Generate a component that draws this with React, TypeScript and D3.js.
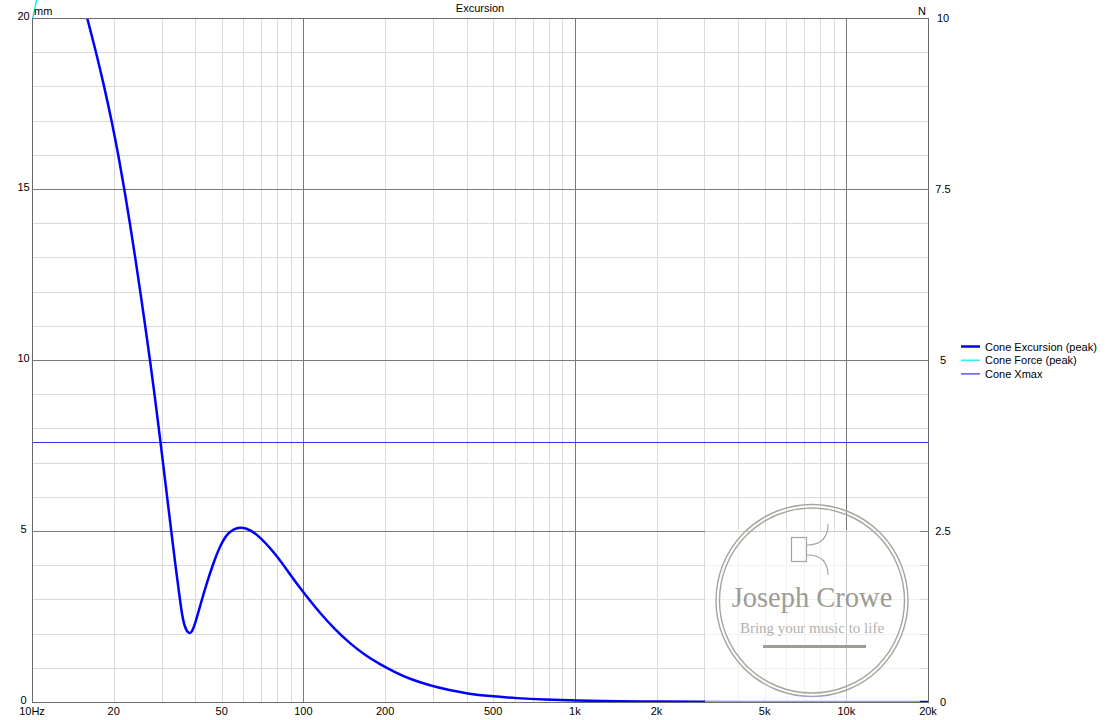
import React, { useEffect } from "react";
import * as d3 from "d3";

// ---- Data ----
const excursionFreq = [10, 12, 14, 15.99, 17.22, 18.45, 19.64, 20.8, 21.88, 22.95, 24.0, 25.06, 26.12, 27.21, 28.27, 29.32, 30.38, 31.46, 32.58, 33.75, 35.07, 35.7, 36.31, 36.93, 37.56, 38.2, 38.86, 39.53, 40.55, 42.2, 44.14, 46.55, 48.45, 50.68, 52.74, 55.5, 58.4, 61.44, 66.31, 78.58, 89.23, 101.34, 115.1, 130.7, 148.5, 168.6, 191.5, 217.5, 247.0, 292.6, 346.7, 399.6, 486.8, 610.6, 776.2, 1000, 1466, 2000, 2891, 5000, 10000, 20000];
const excursionMm = [25.5, 23.5, 21.7, 20.0, 19.0, 18.0, 17.0, 16.0, 15.0, 14.0, 13.0, 12.0, 11.0, 10.0, 9.0, 8.0, 7.0, 6.0, 5.0, 4.0, 3.0, 2.56, 2.28, 2.12, 2.03, 2.01, 2.06, 2.2, 2.48, 2.98, 3.5, 4.05, 4.42, 4.74, 4.93, 5.06, 5.11, 5.08, 4.97, 4.36, 3.73, 3.14, 2.6, 2.12, 1.71, 1.37, 1.1, 0.87, 0.67, 0.48, 0.34, 0.25, 0.17, 0.11, 0.07, 0.04, 0.02, 0.012, 0.007, 0.003, 0.001, 0.0];
const forceFreq = [10, 10.41, 11];
const forceN = [9.95, 10.27, 11.0];
const xmaxMm = [7.6];

const xTicks = [10, 20, 50, 100, 200, 500, 1000, 2000, 5000, 10000, 20000];
const xTickLabels = ["10Hz", "20", "50", "100", "200", "500", "1k", "2k", "5k", "10k", "20k"];
const xMajorGrid = [100, 1000, 10000];
const yLeftTicks = [0, 5, 10, 15, 20];
const yRightTicks = [0, 2.5, 5, 7.5, 10];
const yMajorGrid = [5, 10, 15];

const legendNames = ["Cone Excursion (peak)", "Cone Force (peak)", "Cone Xmax"];
const legendColors = ["#0000ff", "#00e8ff", "#2f2fff"];
const legendWidths = [2.5, 1.2, 1.2];

// ---- Layout ----
const W = 1106, H = 720;
const L = 32, R = 928, T = 18, B = 702;
const FONT = "'Liberation Sans', Arial, sans-serif";

export default function App() {
  useEffect(() => {
    document.body.style.margin = "0";
  }, []);

  const x = d3.scaleLog().domain([10, 20000]).range([L, R]);
  const yL = d3.scaleLinear().domain([0, 20]).range([B, T]);
  const yR = d3.scaleLinear().domain([0, 10]).range([B, T]);

  const minorX: number[] = [];
  [10, 100, 1000, 10000].forEach((dec) => {
    for (let k = 2; k <= 9; k++) {
      const v = dec * k;
      if (v < 20000 && !xMajorGrid.includes(v)) minorX.push(v);
    }
  });
  const minorY = d3.range(1, 20).filter((v) => !yMajorGrid.includes(v));

  const px = (v: number) => Math.round(v) + 0.5;

  const exData = excursionFreq.map((f, i) => [f, excursionMm[i]] as [number, number]);
  const fData = forceFreq.map((f, i) => [f, forceN[i]] as [number, number]);

  const exLine = d3
    .line<[number, number]>()
    .x((d) => x(d[0]))
    .y((d) => yL(d[1]))
    .curve(d3.curveBasis);
  const fLine = d3
    .line<[number, number]>()
    .x((d) => x(d[0]))
    .y((d) => yR(d[1]))
    .curve(d3.curveLinear);

  return (
    <svg width={W} height={H} style={{ display: "block", background: "#fff" }} fontFamily={FONT}>
      <defs>
        <clipPath id="plotClip">
          <rect x={L} y={T} width={R - L} height={B - T} />
        </clipPath>
        <clipPath id="forceClip">
          <rect x={L} y={0} width={R - L} height={B} />
        </clipPath>
      </defs>

      {/* minor grid */}
      <g stroke="#dadada" strokeWidth={1}>
        {minorX.map((v) => (
          <line key={"mx" + v} x1={px(x(v))} x2={px(x(v))} y1={T} y2={B} />
        ))}
        {minorY.map((v) => (
          <line key={"my" + v} x1={L} x2={R} y1={px(yL(v))} y2={px(yL(v))} />
        ))}
      </g>
      {/* major grid */}
      <g stroke="#7a7a7a" strokeWidth={1}>
        {xMajorGrid.map((v) => (
          <line key={"Mx" + v} x1={px(x(v))} x2={px(x(v))} y1={T} y2={B} />
        ))}
        {yMajorGrid.map((v) => (
          <line key={"My" + v} x1={L} x2={R} y1={px(yL(v))} y2={px(yL(v))} />
        ))}
      </g>

      {/* Xmax */}
      {xmaxMm.map((v, i) => (
        <line key={"xm" + i} x1={L} x2={R} y1={px(yL(v))} y2={px(yL(v))} stroke={legendColors[2]} strokeWidth={1.2} />
      ))}

      {/* Force */}
      <path d={fLine(fData) || ""} fill="none" stroke={legendColors[1]} strokeWidth={1.3} clipPath="url(#forceClip)" />

      {/* Excursion */}
      <path d={exLine(exData) || ""} fill="none" stroke={legendColors[0]} strokeWidth={2.5} clipPath="url(#plotClip)" />

      {/* watermark overlay */}
      <rect x={705} y={530} width={215} height={B - 530} fill="#fff" opacity={0.6} />
      <g fill="none" stroke="#a6a59d">
        <circle cx={812} cy={600.5} r={96} strokeWidth={1.4} />
        <circle cx={812} cy={600.5} r={92.5} strokeWidth={1.4} />
        <rect x={791.5} y={537.5} width={15} height={24} strokeWidth={1.2} />
        <path d="M 807 545 Q 828 545 828 524" strokeWidth={1.2} />
        <path d="M 807 555 Q 828 555 828 575" strokeWidth={1.2} />
        <line x1={763} x2={866} y1={646.5} y2={646.5} strokeWidth={3} stroke="#9e9c94" />
      </g>
      <text x={812} y={607} textAnchor="middle" fontFamily="'Liberation Serif', 'DejaVu Serif', serif" fontSize={28.5} fill="#9d9b93">
        Joseph Crowe
      </text>
      <text x={812} y={633} textAnchor="middle" fontFamily="'Liberation Serif', 'DejaVu Serif', serif" fontSize={15} fill="#b3b1aa">
        Bring your music to life
      </text>

      {/* border */}
      <rect x={L + 0.5} y={T + 0.5} width={R - L} height={B - T} fill="none" stroke="#6a6a6a" strokeWidth={1} />

      {/* texts */}
      <g fontSize={11} fill="#000">
        <text x={(L + R) / 2} y={12} textAnchor="middle">Excursion</text>
        <text x={34} y={15}>mm</text>
        <text x={926} y={15} textAnchor="end">N</text>
        {xTicks.map((v, i) => (
          <text key={"xt" + v} x={x(v)} y={715} textAnchor="middle">
            {xTickLabels[i]}
          </text>
        ))}
        {yLeftTicks.map((v) => (
          <text key={"yl" + v} x={23.5} y={yL(v) + 2} textAnchor="middle">
            {v}
          </text>
        ))}
        {yRightTicks.map((v) => (
          <text key={"yr" + v} x={943} y={yR(v) + 3.5} textAnchor="middle">
            {v}
          </text>
        ))}
        {legendNames.map((n, i) => (
          <g key={"lg" + i}>
            <line x1={961} x2={980} y1={346.5 + i * 13.7} y2={346.5 + i * 13.7} stroke={legendColors[i]} strokeWidth={legendWidths[i]} />
            <text x={985} y={350.5 + i * 13.7}>{n}</text>
          </g>
        ))}
      </g>
    </svg>
  );
}
